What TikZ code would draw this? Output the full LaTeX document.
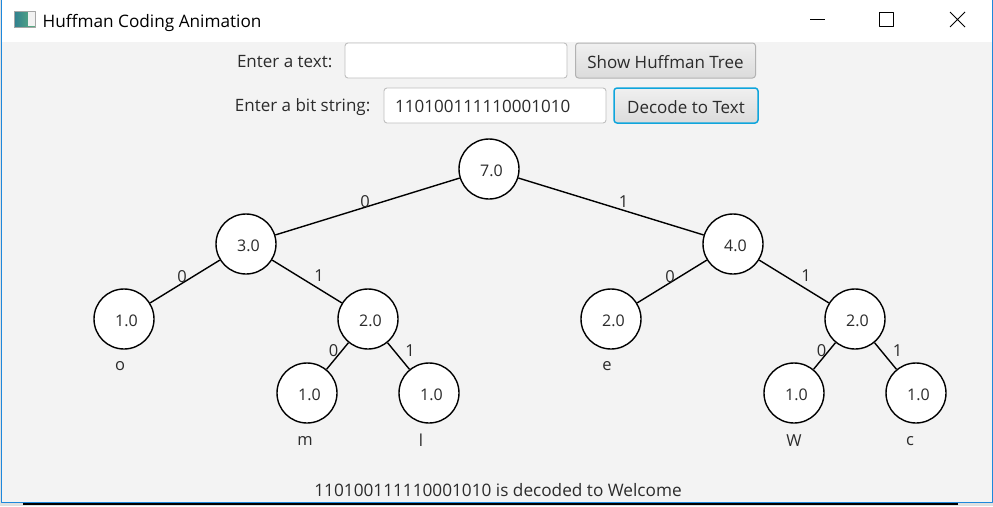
\documentclass[tikz,border=0pt]{standalone}
\usepackage{fontspec}
\setmainfont{Open Sans}
\usetikzlibrary{shadings}
\definecolor{winblue}{HTML}{1E88DC}
\definecolor{panel}{HTML}{F3F3F3}
\definecolor{ink}{HTML}{2B2B2B}
\definecolor{focusblue}{HTML}{0FA5DC}
\definecolor{iconl}{HTML}{2F7F8F}
\definecolor{iconr}{HTML}{5FB080}
\tikzset{l/.style={font=\fontsize{17}{17}\selectfont,text=ink,inner sep=0pt}}
\tikzset{m/.style={font=\fontsize{16.500}{16.500}\selectfont,text=ink,inner sep=0pt}}
\tikzset{hnode/.style={circle,draw=black,line width=1.400pt,fill=white,minimum size=60pt,inner sep=0pt,font=\fontsize{16}{16}\selectfont,text=ink,text height=14pt,text depth=0pt,execute at begin node={\kern5pt}}}
\tikzset{field/.style={draw=black!25,line width=.9pt,fill=white,rounded corners=3pt,inner sep=0pt,font=\fontsize{17}{17}\selectfont,text=ink}}
\tikzset{btn/.style={draw=black!30,line width=1pt,top color=black!6,bottom color=black!14,rounded corners=3pt,inner sep=0pt,font=\fontsize{17}{17}\selectfont,text=ink,text height=15pt,text depth=0pt}}
\begin{document}
\begin{tikzpicture}[x=1pt,y=-1pt,line join=round]
            \useasboundingbox (0,0) rectangle (993,506);
            \fill[black!12] (0,0) rectangle (993,506);
            \fill[black] (23,500) rectangle (958,505);
            \fill[panel] (1,42) rectangle (992,502);
            \fill[white] (1,0) rectangle (992,42);
            \draw[winblue,line width=1pt] (1,0)--(1,502.500)--(992,502.500)--(992,0);
            % title bar
            \shade[left color=iconl,right color=iconr,draw=black!35,line width=.8pt] (14,11) rectangle (35,27);
            \fill[white!90!gray] (28,12) rectangle (34.500,26);
            \node[anchor=west,inner sep=0pt,text=black,font=\fontsize{17.200}{17.200}\selectfont] (title) at (42.500,22.500) {Huffman Coding Animation};
            \draw[line width=.9pt] (810,19.500)--(825,19.500);
            \draw[line width=.9pt] (879.500,12.500) rectangle (893.500,26.500);
            \draw[line width=.9pt] (950,12)--(965,27) (965,12)--(950,27);
            % controls
            \node[l,anchor=east] (textlabel) at (332.500,62) {Enter a text:};
            \node[field,minimum width=222pt,minimum height=35pt] (textfield) at (456,60.500) {};
            \node[btn,minimum width=180pt,minimum height=35pt] (showbtn) at (665.500,60.500) {Show Huffman Tree};
            \node[l,anchor=east] (bitlabel) at (370.500,107.500) {Enter a bit string:};
            \node[field,minimum width=222pt,minimum height=35pt] (bitfield) at (495,105.500) {};
            \node[l,anchor=west] (bits) at (395,106.500) {110100111110001010};
            \node[btn,draw=focusblue,line width=1.500pt,minimum width=144pt,minimum height=35pt] (decodebtn) at (686,105.500) {Decode to Text};
            % tree
            \node[hnode] (n) at (489,169) {7.0};
            \node[hnode] (n0) at (246,244) {3.0};
            \node[hnode] (n1) at (733,244) {4.0};
            \node[hnode] (n00) at (124,319) {1.0};
            \node[hnode] (n01) at (368,319) {2.0};
            \node[hnode] (n10) at (611,319) {2.0};
            \node[hnode] (n11) at (855,319) {2.0};
            \node[hnode] (n010) at (307,393) {1.0};
            \node[hnode] (n011) at (429,393) {1.0};
            \node[hnode] (n110) at (794,393) {1.0};
            \node[hnode] (n111) at (916,393) {1.0};
            \foreach \a/\b in {n/n0,n/n1,n0/n00,n0/n01,n01/n010,n01/n011,n1/n10,n1/n11,n11/n110,n11/n111}
              \draw[line width=1.400pt] (\a)--(\b);
            % bits on edges
            \node[m] (b1) at (365,201.500) {0};
            \node[m] (b2) at (623.500,201.500) {1};
            \node[m] (b3) at (182,276.500) {0};
            \node[m] (b4) at (319,276) {1};
            \node[m] (b5) at (670,276.500) {0};
            \node[m] (b6) at (806,276) {1};
            \node[m] (b7) at (333.500,350.500) {0};
            \node[m] (b8) at (410,350.500) {1};
            \node[m] (b9) at (821.500,350.500) {0};
            \node[m] (b10) at (897.500,350.500) {1};
            % letters
            \node[m] (co) at (120,366) {o};
            \node[m] (cm) at (305,441) {m};
            \node[m] (cl) at (421,440) {l};
            \node[m] (ce) at (607,366) {e};
            \node[m] (cw) at (794,440.500) {W};
            \node[m] (cc) at (910,441) {c};
            \node[l,font=\fontsize{17.200}{17.200}\selectfont] (result) at (498,490.500) {110100111110001010 is decoded to Welcome};
          \end{tikzpicture}
\end{document}
